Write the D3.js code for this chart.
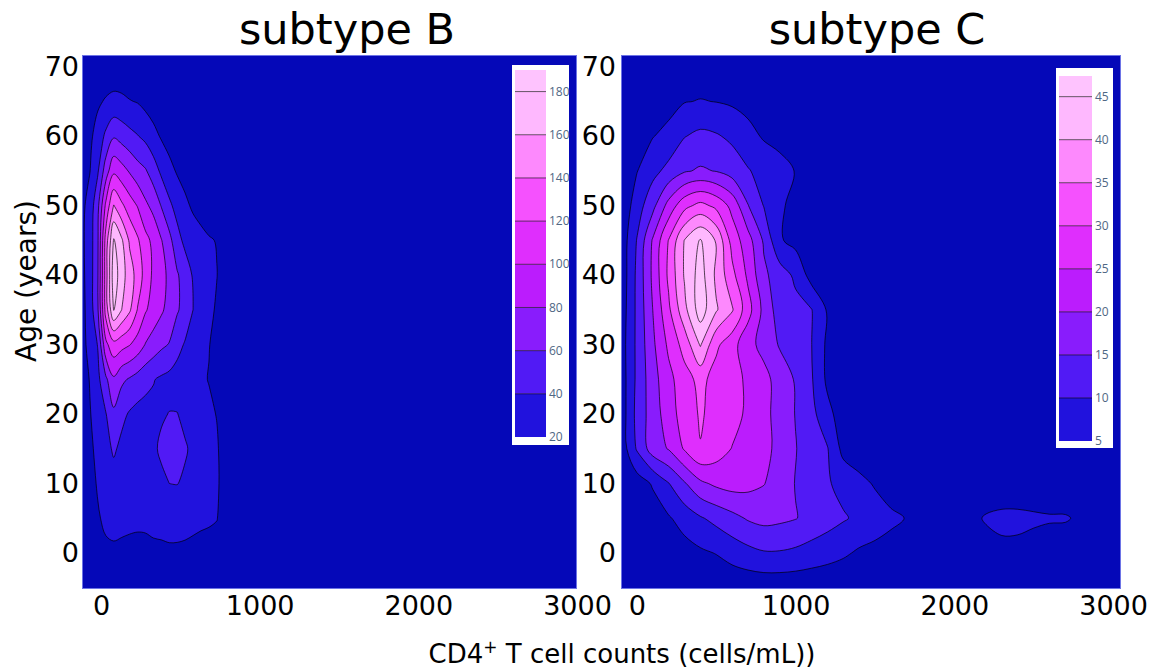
<!DOCTYPE html>
<html>
<head>
<meta charset="utf-8">
<script src="https://cdn.jsdelivr.net/npm/d3@7"></script>
<style>
  body { margin: 0; background: #fff; }
  svg { display: block; font-family: "DejaVu Sans", sans-serif; }
</style>
</head>
<body>
<svg id="chart" width="1162" height="671"></svg>
<script>
/*--------------------------------------------------------------------------------
----- DATA (density grids: rows are ages, columns CD4 counts)
--------------------------------------------------------------------------------*/

// Age rows shared by both grids (years)
const age_grid = [-5, 0, 5, 10, 15, 20, 25, 30, 35, 40, 45, 50, 55, 60, 65, 70];

// Subtype B: CD4 columns and density values
const cd4_B = [-120, -70, -20, 30, 80, 130, 180, 230, 280, 330, 380, 430, 480, 530, 580, 630, 680, 730, 780, 830, 880];
const density_B = [
    [0, 1, 2, 4, 5, 5, 5, 5, 5, 5, 5, 5, 5, 5, 5, 5, 4, 2, 1, 0, 0],
    [1, 3, 8, 16, 17.4, 16, 15.3, 15.5, 16, 17, 17, 17.5, 17.4, 16.5, 15, 13, 11.6, 8, 3, 0.5, 0],
    [3, 8, 18, 24, 25, 25, 24, 23, 23, 24, 25, 26, 26, 26, 25, 24, 23, 21, 7, 1, 0],
    [5, 13, 22, 28, 31, 29, 27, 27, 29, 32, 36, 40, 40.5, 37, 33, 29, 27, 24, 9, 1, 0],
    [7, 17, 24, 33, 43, 35, 30, 29, 31, 37, 43, 47, 47, 42, 36, 30, 27, 23, 8, 1, 0],
    [9, 19, 28, 39, 56, 45, 38, 34, 33, 35, 38, 40.5, 40.5, 35, 30, 27, 25, 19, 6, 1, 0],
    [11, 21, 35, 56, 77, 64, 58, 52, 46, 41, 37, 34, 31, 28, 27, 24, 19, 11, 3, 0, 0],
    [13, 27, 41, 95, 113, 107, 101, 92, 79, 71, 64, 59, 47, 38, 33, 27, 21, 12, 4, 1, 0],
    [14, 29, 58, 128, 181, 160, 143, 119, 102, 92, 83, 73, 62, 53, 40, 32, 26, 17, 6, 1, 0],
    [15, 30, 59, 130, 192, 168, 150, 132, 112, 96, 86, 76, 62, 51, 38, 31, 25, 20.5, 9, 2, 0],
    [16, 30, 58, 128, 182, 163, 137, 123, 106, 95, 81, 66, 47, 35, 30, 26, 22, 19, 8, 2, 0],
    [15, 28, 55, 104, 141, 124, 110, 99, 84, 74, 59, 44, 33, 24, 17, 12, 7, 3, 1, 0, 0],
    [14, 19.5, 38, 70, 96, 88, 78, 68, 62, 50, 36, 26, 18, 13, 9, 6, 3, 1, 0, 0, 0],
    [10, 16, 28, 44, 58, 52, 46, 41, 35, 26, 18, 12, 8, 5, 3, 2, 1, 0, 0, 0, 0],
    [5, 10, 17, 22, 25, 24, 21, 19, 14, 10, 7, 5, 3, 2, 1, 0, 0, 0, 0, 0, 0],
    [1, 2, 4, 7, 8, 7, 5, 4, 3, 2, 1, 0, 0, 0, 0, 0, 0, 0, 0, 0, 0]
];
const levels_B = [20, 40, 60, 80, 100, 120, 140, 160, 180];
const max_B = 190;

// Subtype C: CD4 columns and density values
const cd4_C = [-100, 0, 100, 200, 300, 400, 500, 600, 700, 800, 900, 1000, 1100, 1200, 1300, 1400,
    1500, 1600, 1700, 1800, 1900, 2000, 2100, 2200, 2300, 2400, 2500, 2600, 2700, 2800, 2900, 3000];
const density_C = [
    [0, 0.1, 0.2, 0.3, 0.4, 0.5, 1, 1.2, 1.4, 1.5, 1.5, 1.4, 1.2, 1, 0.8, 0.5, 0.3, 0.2, 0.1, 0, 0, 0, 0, 0.3, 0.6, 0.6, 0.4, 0.3, 0.2, 0.1, 0, 0],
    [0, 0.3, 0.8, 1.8, 3, 4.2, 5.2, 7, 8.5, 9.6, 9.6, 9, 8, 7, 5.8, 4.3, 3.6, 3, 2.2, 1.5, 1, 0.8, 1.4, 2.8, 3.9, 3.8, 3, 2.1, 1.3, 0.6, 0.2, 0],
    [0.2, 1, 2.5, 4.5, 7, 9.5, 11.5, 13.5, 15.5, 16.5, 16, 15.2, 13.5, 12, 10.5, 9, 7.5, 6, 4.8, 3.5, 2.5, 2, 3.6, 5.5, 6.1, 6.1, 5.8, 5.5, 5.5, 4, 1.5, 0.5],
    [0.5, 2.5, 5.5, 9.8, 14.5, 19, 21, 22, 21.5, 20.2, 17.5, 14.8, 12.8, 10.5, 8.5, 6.5, 4.5, 2.5, 1.2, 0.5, 0.2, 0.1, 0.4, 1.4, 1.8, 1.8, 1.5, 1.1, 0.7, 0.3, 0.1, 0],
    [1.8, 10.5, 17.5, 20.3, 25.5, 29.8, 27.5, 24.8, 23.5, 21.5, 18.5, 15.2, 12.5, 10.3, 3.5, 1.8, 1, 0.5, 0.2, 0, 0, 0, 0, 0, 0, 0, 0, 0, 0, 0, 0, 0],
    [2, 11.5, 17.5, 22.5, 27.5, 30.5, 28.5, 27, 24, 21.5, 18, 14.8, 11.5, 6.5, 2.5, 1.3, 0.8, 0.4, 0.1, 0, 0, 0, 0, 0, 0, 0, 0, 0, 0, 0, 0, 0],
    [2.2, 11, 18, 23.5, 28, 31.5, 28, 27, 24, 21.5, 18, 14.5, 10.5, 4, 2, 1.2, 0.7, 0.3, 0, 0, 0, 0, 0, 0, 0, 0, 0, 0, 0, 0, 0, 0],
    [2.5, 11, 19, 26, 32, 40.5, 31, 27, 21.5, 18.5, 14.5, 11.5, 10.1, 4, 2, 1.2, 0.7, 0.3, 0, 0, 0, 0, 0, 0, 0, 0, 0, 0, 0, 0, 0, 0],
    [2, 11, 20, 29, 38.5, 47.5, 40.5, 35.5, 27, 18.5, 12.5, 11.5, 10.2, 4.5, 2.2, 1.3, 0.8, 0.4, 0, 0, 0, 0, 0, 0, 0, 0, 0, 0, 0, 0, 0, 0],
    [1.5, 11, 21, 31, 40.5, 47.2, 39, 31.5, 24, 16, 12.5, 9, 3, 1.8, 1.2, 0.8, 0.5, 0.2, 0, 0, 0, 0, 0, 0, 0, 0, 0, 0, 0, 0, 0, 0],
    [1.7, 10.2, 20.5, 30.2, 40.2, 45.4, 39.5, 28, 22, 14.3, 5.5, 3.5, 2.5, 1.7, 1.1, 0.7, 0.4, 0.2, 0, 0, 0, 0, 0, 0, 0, 0, 0, 0, 0, 0, 0, 0],
    [1, 7.5, 13.5, 21.8, 28.5, 31.5, 28.8, 23.5, 15.2, 9.8, 5.8, 3.5, 2.4, 1.6, 1, 0.6, 0.3, 0.1, 0, 0, 0, 0, 0, 0, 0, 0, 0, 0, 0, 0, 0, 0],
    [1.2, 4.8, 8.5, 11.5, 14.5, 15.6, 14.8, 12.8, 10.4, 8.2, 6.8, 4.8, 3.4, 2.3, 1.4, 0.8, 0.4, 0.1, 0, 0, 0, 0, 0, 0, 0, 0, 0, 0, 0, 0, 0, 0],
    [0.8, 2.5, 4.8, 6.5, 9.8, 11.2, 10.5, 9, 6.5, 4.5, 3.4, 2.6, 1.8, 1.1, 0.6, 0.3, 0.1, 0, 0, 0, 0, 0, 0, 0, 0, 0, 0, 0, 0, 0, 0, 0],
    [0.3, 1, 2, 3.2, 4.8, 5.2, 4.9, 4.3, 3.5, 2.7, 2, 1.4, 0.9, 0.5, 0.2, 0, 0, 0, 0, 0, 0, 0, 0, 0, 0, 0, 0, 0, 0, 0, 0, 0],
    [0, 0.3, 0.8, 1.5, 2.2, 2.6, 2.5, 2.1, 1.6, 1.1, 0.7, 0.4, 0.2, 0.1, 0, 0, 0, 0, 0, 0, 0, 0, 0, 0, 0, 0, 0, 0, 0, 0, 0, 0]
];
const levels_C = [5, 10, 15, 20, 25, 30, 35, 40, 45];
const max_C = 47.4;

// Tick labels and titles
const x_ticks = [0, 1000, 2000, 3000];
const y_ticks = [0, 10, 20, 30, 40, 50, 60, 70];
const titles = ["subtype B", "subtype C"];

/*--------------------------------------------------------------------------------
----- DRAWING
--------------------------------------------------------------------------------*/

// Plotly3 colour scale, sampled once per contour band
const plotly3 = ["#0508b8", "#1910d8", "#3c19f0", "#6b1cfb", "#981cfd", "#bf1cfd",
    "#dd2bfd", "#f246fe", "#fc67fd", "#fea5fd", "#febefe", "#fec3fe"];
const color_scale = d3.scaleLinear()
    .domain(plotly3.map((c, i) => i / (plotly3.length - 1)))
    .range(plotly3);
const band_color = (k, count) => color_scale(k / count);

// Panel layout (pixels) and the data that goes in each
const panels = [
    { title: titles[0], cd4: cd4_B, density: density_B, levels: levels_B, max: max_B,
      left: 82, right: 577, domain: [-120, 3000], title_x: 347, y_pad: 3,
      box: { x: 512, y: 65, w: 57, h: 380 }, bar: { x: 515, w: 31, bottom: 437, top: 70 } },
    { title: titles[1], cd4: cd4_C, density: density_C, levels: levels_C, max: max_C,
      left: 621, right: 1121, domain: [-100, 3050], title_x: 877, y_pad: 5,
      box: { x: 1056, y: 68, w: 57, h: 380 }, bar: { x: 1059, w: 33, bottom: 441, top: 76 } }
];
const plot_top = 55, plot_bottom = 589;

const svg = d3.select("#chart");
const y_scale = d3.scaleLinear().domain([-5.2, 71.7]).range([plot_bottom, plot_top]);

panels.forEach((p, pi) => {
    const x_scale = d3.scaleLinear().domain(p.domain).range([p.left, p.right]);
    const n = p.cd4.length, m = age_grid.length;
    const band_count = p.levels.length;

    // Clip everything to the plot area
    svg.append("clipPath").attr("id", "clip" + pi)
        .append("rect")
        .attr("x", p.left).attr("y", plot_top)
        .attr("width", p.right - p.left).attr("height", plot_bottom - plot_top);

    const g = svg.append("g").attr("clip-path", `url(#clip${pi})`);

    // Background = band below the first level
    g.append("rect")
        .attr("x", p.left).attr("y", plot_top)
        .attr("width", p.right - p.left).attr("height", plot_bottom - plot_top)
        .attr("fill", band_color(0, band_count));

    // Contours from the density grid
    const contours = d3.contours()
        .size([n, m])
        .thresholds(p.levels)(p.density.flat());

    // Grid index -> data value (cell centres sit at index + 0.5)
    const grid_x = d3.scaleLinear().domain([0.5, n - 0.5]).range([p.cd4[0], p.cd4[n - 1]]);
    const grid_y = d3.scaleLinear().domain([0.5, m - 0.5]).range([age_grid[0], age_grid[m - 1]]);

    const ring_line = d3.line()
        .x(d => x_scale(grid_x(d[0])))
        .y(d => y_scale(grid_y(d[1])))
        .curve(d3.curveCatmullRomClosed.alpha(0.5));

    g.selectAll("path.level")
        .data(contours)
        .join("path")
        .attr("class", "level")
        .attr("d", c => c.coordinates
            .map(poly => poly.map(r => ring_line(r.slice(0, -1))).join(""))
            .join(""))
        .attr("fill", (c, i) => band_color(i + 1, band_count))
        .attr("fill-rule", "evenodd")
        .attr("stroke", "rgba(0, 0, 0, 0.75)")
        .attr("stroke-width", 0.9);

    // Thin frame round the plot
    svg.append("rect")
        .attr("x", p.left + 0.5).attr("y", plot_top + 0.5)
        .attr("width", p.right - p.left - 1).attr("height", plot_bottom - plot_top - 1)
        .attr("fill", "none")
        .attr("stroke", "#6d74e6")
        .attr("stroke-width", 1);

    // X axis
    const x_axis = svg.append("g")
        .attr("transform", `translate(0,${plot_bottom})`)
        .call(d3.axisBottom(x_scale).tickValues(x_ticks).tickSize(0).tickPadding(7).tickFormat(d3.format("d")));
    x_axis.select(".domain").remove();
    x_axis.attr("font-size", 27).attr("font-family", "DejaVu Sans");
    x_axis.selectAll("text").attr("fill", "#000");

    // Y axis
    const y_axis = svg.append("g")
        .attr("transform", `translate(${p.left},0)`)
        .call(d3.axisLeft(y_scale).tickValues(y_ticks).tickSize(0).tickPadding(p.y_pad));
    y_axis.select(".domain").remove();
    y_axis.attr("font-size", 27).attr("font-family", "DejaVu Sans");
    y_axis.selectAll("text").attr("fill", "#000");

    // Panel title
    svg.append("text")
        .attr("x", p.title_x).attr("y", 44)
        .attr("text-anchor", "middle")
        .attr("font-size", 43)
        .attr("fill", "#000")
        .text(p.title);

    // Colour bar
    const cb_scale = d3.scaleLinear().domain([p.levels[0], p.max]).range([p.bar.bottom, p.bar.top]);
    const cb = svg.append("g");
    cb.append("rect")
        .attr("x", p.box.x).attr("y", p.box.y)
        .attr("width", p.box.w).attr("height", p.box.h)
        .attr("fill", "#fff");
    const band_edges = p.levels.concat([p.max]);
    cb.selectAll("rect.band")
        .data(p.levels)
        .join("rect")
        .attr("class", "band")
        .attr("x", p.bar.x)
        .attr("y", (d, i) => cb_scale(band_edges[i + 1]))
        .attr("width", p.bar.w)
        .attr("height", (d, i) => cb_scale(d) - cb_scale(band_edges[i + 1]))
        .attr("fill", (d, i) => band_color(i + 1, band_count));
    cb.selectAll("line.lvl")
        .data(p.levels.slice(1))
        .join("line")
        .attr("class", "lvl")
        .attr("x1", p.bar.x).attr("x2", p.bar.x + p.bar.w)
        .attr("y1", d => cb_scale(d)).attr("y2", d => cb_scale(d))
        .attr("stroke", "rgba(0, 0, 0, 0.6)")
        .attr("stroke-width", 1);
    cb.selectAll("text.tick")
        .data(p.levels)
        .join("text")
        .attr("class", "tick")
        .attr("x", p.bar.x + p.bar.w + 3)
        .attr("y", d => cb_scale(d))
        .attr("dy", "0.35em")
        .attr("font-family", "Open Sans")
        .attr("font-size", 12)
        .attr("fill", "#506784")
        .text(d => d);
});

// Shared axis titles
const x_title = svg.append("text")
    .attr("x", 622).attr("y", 663)
    .attr("text-anchor", "middle")
    .attr("font-size", 26)
    .attr("fill", "#000");
x_title.append("tspan").text("CD4");
x_title.append("tspan").attr("dy", -10).attr("font-size", 17).text("+");
x_title.append("tspan").attr("dy", 10).text(" T cell counts (cells/mL))");

svg.append("text")
    .attr("transform", "translate(36,281) rotate(-90)")
    .attr("text-anchor", "middle")
    .attr("font-size", 28)
    .attr("fill", "#000")
    .text("Age (years)");
</script>
</body>
</html>
